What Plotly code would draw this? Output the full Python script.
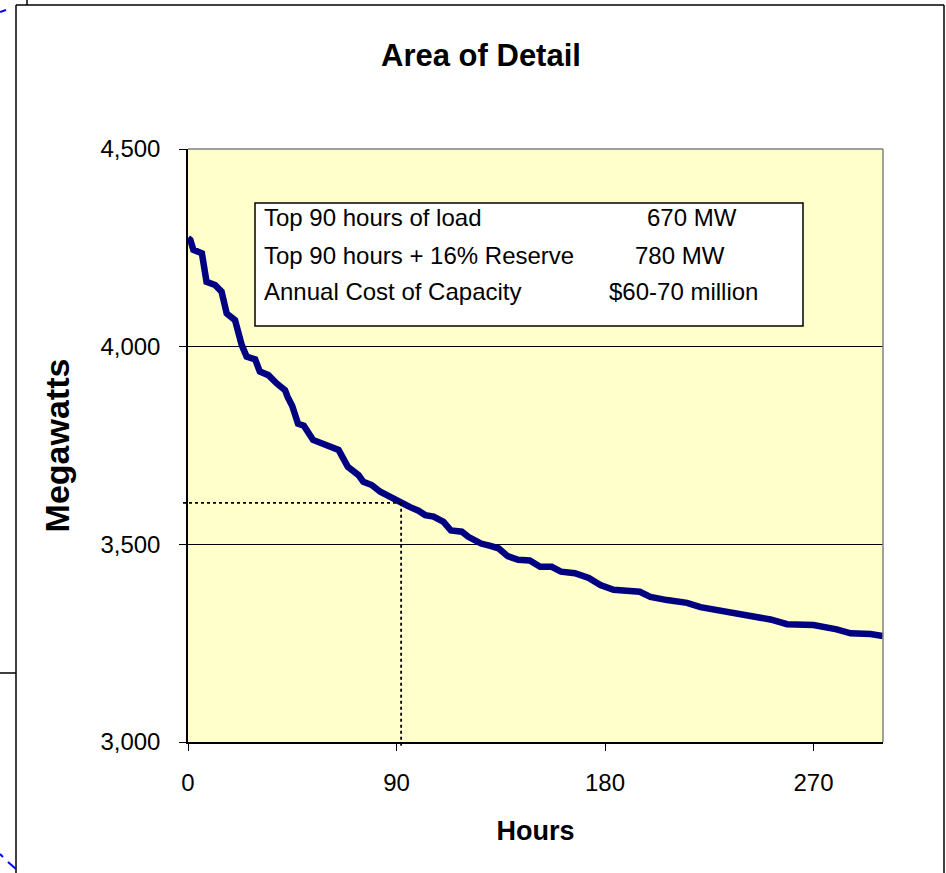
import plotly.graph_objects as go

# ---------------- data ----------------
hours = [0, 1, 2.3, 6, 8, 11.7, 14.5, 16.7, 20.3, 23.2, 25.3, 29, 31, 34.7, 38.3,
         41.9, 43, 45, 47.5, 50, 54, 58.5, 62.8, 65, 69, 73.6, 75.7, 79.3, 83,
         87.3, 91.6, 95.9, 99.5, 102.4, 106, 110.3, 113.5, 118.2, 121, 126.5,
         130.5, 134, 138, 142.5, 147.5, 152, 157, 161, 167, 173, 178, 183.7,
         195, 199.6, 206.8, 215.4, 221.2, 227, 234, 240, 245.7, 251.4, 258.6,
         270, 280, 286, 294.6, 300]
megawatts = [4275, 4270, 4245, 4236, 4164, 4156, 4139, 4084, 4067, 4004, 3975,
             3968, 3937, 3928, 3907, 3890, 3873, 3850, 3805, 3800, 3764, 3755,
             3743, 3739, 3696, 3675, 3658, 3650, 3633, 3620, 3603, 3594, 3585,
             3574, 3570, 3557, 3535, 3532, 3519, 3502, 3496, 3490, 3470, 3461,
             3459, 3443, 3443, 3431, 3427, 3415, 3397, 3385, 3380, 3367, 3359,
             3352, 3341, 3335, 3324, 3321, 3313, 3310, 3298, 3296, 3285, 3275,
             3273, 3268]

x_ticks = [0, 90, 180, 270]
y_ticks = [3000, 3500, 4000, 4500]
x_range = [0, 300]
y_range = [3000, 4500]

marker_hour = 92
marker_mw = 3605

box_labels = ["Top 90 hours of load", "Top 90 hours + 16% Reserve",
              "Annual Cost of Capacity"]
box_values = ["670 MW", "780 MW", "$60-70 million"]

title_text = "Area of Detail"
x_title = "Hours"
y_title = "Megawatts"

# ---------------- layout geometry ----------------
W, H = 946, 873
FONT = "Liberation Sans, Arial, sans-serif"
xdom = [188 / W, 883 / W]
ydom = [1 - 742 / H, 1 - 149 / H]


def px(x):
    return x / W


def py(y):
    return 1 - y / H


def data_to_paper_x(h):
    return xdom[0] + (h - x_range[0]) / (x_range[1] - x_range[0]) * (xdom[1] - xdom[0])


def data_to_paper_y(v):
    return ydom[0] + (v - y_range[0]) / (y_range[1] - y_range[0]) * (ydom[1] - ydom[0])


fig = go.Figure()
fig.add_trace(go.Scatter(
    x=hours, y=megawatts, mode="lines",
    line=dict(color="#000080", width=6.5),
    hoverinfo="x+y", showlegend=False,
))

shapes = []
# dotted reference lines
shapes.append(dict(type="line", xref="paper", yref="paper",
                   x0=px(183), x1=data_to_paper_x(marker_hour),
                   y0=data_to_paper_y(marker_mw), y1=data_to_paper_y(marker_mw),
                   line=dict(color="black", width=1.8, dash="dot")))
shapes.append(dict(type="line", xref="paper", yref="paper",
                   x0=data_to_paper_x(marker_hour), x1=data_to_paper_x(marker_hour),
                   y0=data_to_paper_y(marker_mw), y1=py(747),
                   line=dict(color="black", width=1.8, dash="dot")))
# grey top and right border of plot area
shapes.append(dict(type="line", xref="paper", yref="paper",
                   x0=xdom[0], x1=xdom[1], y0=ydom[1], y1=ydom[1],
                   line=dict(color="#808080", width=1.5), layer="above"))
shapes.append(dict(type="line", xref="paper", yref="paper",
                   x0=xdom[1], x1=xdom[1], y0=ydom[0], y1=ydom[1],
                   line=dict(color="#808080", width=1.5), layer="above"))
# info box
shapes.append(dict(type="rect", xref="paper", yref="paper",
                   x0=px(255), x1=px(803), y0=py(326), y1=py(203),
                   fillcolor="white", line=dict(color="black", width=1.5),
                   layer="above"))
# outer frame pieces (slide decoration)
frame = [
    (16, 5, 16, 873), (16, 5, 944, 5), (944, 5, 944, 873),
    (27, 0, 27, 5), (0, 673, 16, 673),
]
for x0, y0, x1, y1 in frame:
    shapes.append(dict(type="line", xref="paper", yref="paper",
                       x0=px(x0), x1=px(x1), y0=py(y0), y1=py(y1),
                       line=dict(color="black", width=1.5)))
for x0, y0, x1, y1 in [(0, 12, 6, 10), (0, 854, 3, 857), (8, 862, 16, 869)]:
    shapes.append(dict(type="line", xref="paper", yref="paper",
                       x0=px(x0), x1=px(x1), y0=py(y0), y1=py(y1),
                       line=dict(color="#0000FF", width=2)))

annotations = []
row_y = [217, 255, 292]
value_x = [645, 633, 607]
for lab, val, yy, vx in zip(box_labels, box_values, row_y, value_x):
    annotations.append(dict(xref="paper", yref="paper", x=px(262), y=py(yy),
                            text=lab, showarrow=False, xanchor="left",
                            yanchor="middle",
                            font=dict(family=FONT, size=24, color="black")))
    annotations.append(dict(xref="paper", yref="paper", x=px(vx), y=py(yy),
                            text=val, showarrow=False, xanchor="left",
                            yanchor="middle",
                            font=dict(family=FONT, size=24, color="black")))

fig.update_layout(
    width=W, height=H,
    margin=dict(l=0, r=0, t=0, b=0),
    paper_bgcolor="white",
    plot_bgcolor="#FFFFCC",
    font=dict(family=FONT, color="black"),
    title=dict(text="<b>" + title_text + "</b>", x=px(481), y=py(55),
               xanchor="center", yanchor="middle", xref="paper",
               yref="container", font=dict(family=FONT, size=31, color="black")),
    xaxis=dict(domain=xdom, range=x_range, tickvals=x_ticks,
               showgrid=False, zeroline=False,
               showline=True, linecolor="black", linewidth=1.5,
               ticks="outside", ticklen=7, tickcolor="black", tickwidth=1.2,
               tickfont=dict(family=FONT, size=24), ticklabelstandoff=11,
               title=dict(text="<b>" + x_title + "</b>", standoff=27,
                          font=dict(family=FONT, size=27)),
               automargin=False, fixedrange=True),
    yaxis=dict(domain=ydom, range=y_range, tickvals=y_ticks,
               tickformat=",", showgrid=True, gridcolor="black", gridwidth=1,
               zeroline=False,
               showline=True, linecolor="black", linewidth=1.5,
               ticks="outside", ticklen=7, tickcolor="black", tickwidth=1.2,
               tickfont=dict(family=FONT, size=24), ticklabelstandoff=14,
               title=dict(text="<b>" + y_title + "</b>", standoff=20,
                          font=dict(family=FONT, size=34)),
               automargin=False, fixedrange=True),
    shapes=shapes,
    annotations=annotations,
)

fig.write_html("out.html",
               config={"displayModeBar": False},
               post_script="document.body.style.margin='0';"
                           "document.body.style.padding='0';")
